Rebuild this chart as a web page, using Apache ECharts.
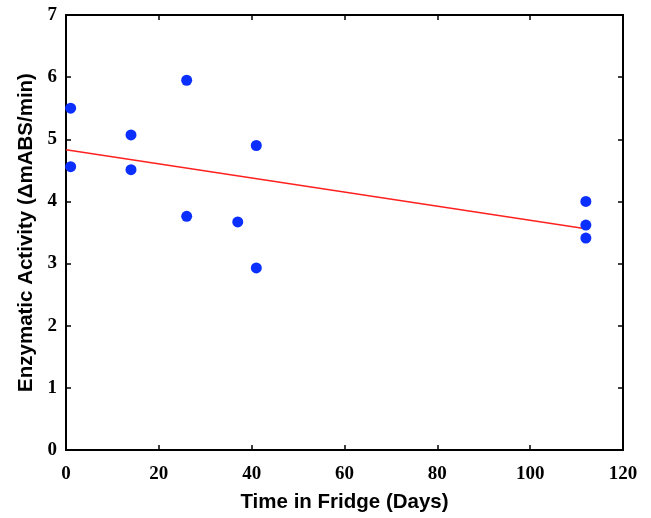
<!DOCTYPE html>
<html><head><meta charset="utf-8">
<script src="https://cdn.jsdelivr.net/npm/echarts@6/dist/echarts.min.js"></script>
<style>html,body{margin:0;padding:0;background:#fff}#c{width:651px;height:518px}</style>
</head><body><div id="c"></div>
<script>
const daysX = [1, 1, 14, 14, 26, 26, 37, 41, 41, 112, 112, 112];
const activityY = [5.50, 4.56, 5.07, 4.51, 5.95, 3.76, 3.67, 4.90, 2.93, 4.00, 3.62, 3.41];
const fitX = [0, 112];
const fitY = [4.83, 3.56];
const xTitle = 'Time in Fridge (Days)';
const yTitle = 'Enzymatic Activity (\u0394mABS/min)';

const chart = echarts.init(document.getElementById('c'));
function tickLbl(m) { return {margin: m, fontFamily: 'Liberation Serif', fontWeight: 'bold', fontSize: 19, color: '#000'}; }
function axisLine() { return {show: true, onZero: false, lineStyle: {color: '#000', width: 2}}; }
function tick() { return {show: true, inside: true, length: 5, lineStyle: {color: '#000', width: 1.5}}; }
const titleStyle = {fontFamily: 'Liberation Sans', fontWeight: 'bold', fontSize: 20.5, color: '#000'};
chart.setOption({
  animation: false,
  grid: {left: 66, top: 15, width: 557, height: 439, containLabel: false,
         show: true, borderColor: '#000', borderWidth: 2, backgroundColor: 'transparent'},
  xAxis: [{
    type: 'value', min: 0, max: 120, interval: 20,
    axisLine: axisLine(), axisTick: tick(), splitLine: {show: false},
    axisLabel: tickLbl(15),
    name: xTitle, nameLocation: 'middle', nameGap: 42, nameTextStyle: titleStyle
  }, {
    type: 'value', position: 'top', min: 0, max: 120, interval: 20,
    axisLine: axisLine(), axisTick: tick(), axisLabel: {show: false}, splitLine: {show: false}
  }],
  yAxis: [{
    type: 'value', min: 0, max: 7, interval: 1,
    axisLine: axisLine(), axisTick: tick(), splitLine: {show: false},
    axisLabel: tickLbl(9),
    name: yTitle, nameLocation: 'middle', nameGap: 27, nameTextStyle: titleStyle
  }, {
    type: 'value', position: 'right', min: 0, max: 7, interval: 1,
    axisLine: axisLine(), axisTick: tick(), axisLabel: {show: false}, splitLine: {show: false}
  }],
  series: [{
    type: 'line', data: fitX.map((x, i) => [x, fitY[i]]),
    showSymbol: false, symbol: 'none', lineStyle: {color: '#ff2020', width: 1.5}, z: 2
  }, {
    type: 'scatter', data: daysX.map((x, i) => [x, activityY[i]]),
    symbol: 'circle', symbolSize: 11, itemStyle: {color: '#0b2fff', opacity: 1}, z: 3
  }, {
    type: 'scatter', xAxisIndex: 1, yAxisIndex: 1, data: [], silent: true
  }]
});
</script></body></html>
